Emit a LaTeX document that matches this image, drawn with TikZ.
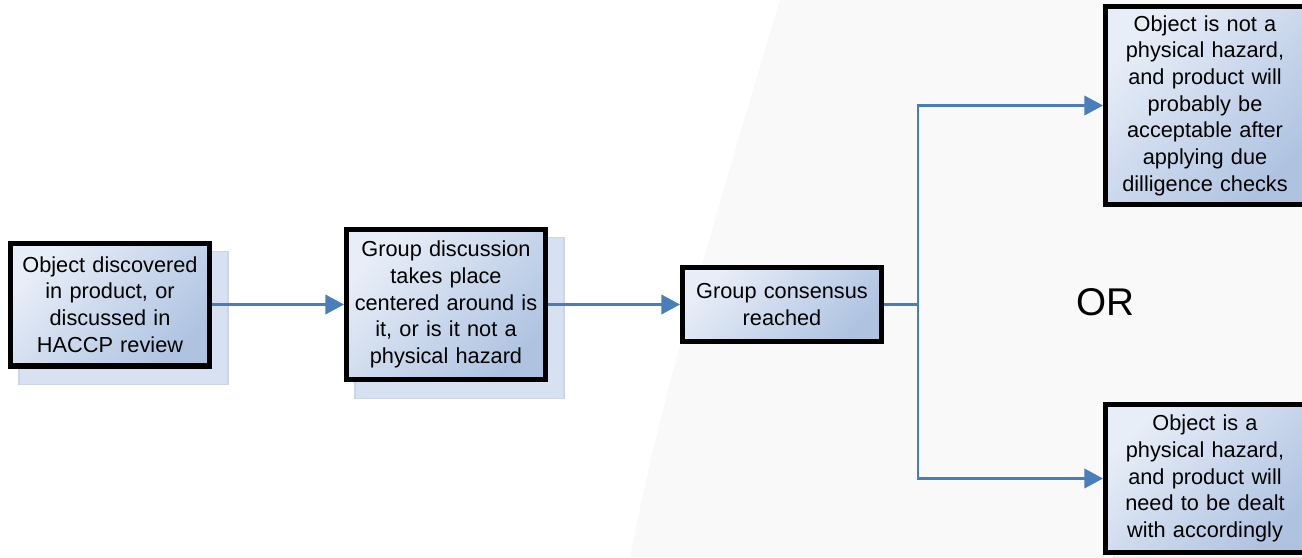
\documentclass[tikz,border=0pt]{standalone}
\usepackage{fontspec}
\setmainfont{Liberation Sans}
\usetikzlibrary{arrows.meta,backgrounds}

\definecolor{boxlight}{HTML}{E8EEF8}
\definecolor{boxdark}{HTML}{AFC3E1}
\definecolor{shadowfill}{HTML}{D7E1F1}
\definecolor{shadowline}{HTML}{C9D6EC}
\definecolor{flowblue}{HTML}{4A7EBB}
\definecolor{haze}{HTML}{F9F9F9}

\tikzset{
  procbox/.style={draw=black, line width=4pt, rectangle, inner sep=0pt,
    top color=boxlight, bottom color=boxdark, shading angle=45,
    align=center, text width=148pt,
    font=\fontsize{16.3}{20}\selectfont},
  flow/.style={draw=flowblue, line width=2.1pt,
    -{Triangle[length=14pt,width=14.5pt]}},
  link/.style={draw=flowblue, line width=2.1pt},
  shadowbox/.style={fill=shadowfill, draw=shadowline, line width=0.8pt},
}

\begin{document}
% one unit = one pixel, y axis pointing down
\begin{tikzpicture}[x=0.75pt, y=-0.75pt]
  \useasboundingbox (0,0) rectangle (1302,557);
  \clip (0,0) rectangle (1302,557);

  % faint backdrop sweep on the right
  \fill[haze] (780,0) .. controls (720,200) and (660,400) .. (630,557)
    -- (1302,557) -- (1302,0) -- cycle;

  % process boxes
  \node[procbox, minimum width=149pt, minimum height=92pt] (disc) at (110,304.5)
    {Object discovered\\in product, or\\discussed in\\HACCP review};
  \node[procbox, minimum width=149pt, minimum height=112.5pt] (talk) at (446,304.5)
    {Group discussion\\takes place\\centered around is\\it, or is it not a\\physical hazard};
  \node[procbox, minimum width=149pt, minimum height=55.5pt] (cons) at (782,304.5)
    {Group consensus\\reached};
  \node[procbox, minimum width=149pt, minimum height=148.5pt] (safe) at (1205,105.5)
    {Object is not a\\physical hazard,\\and product will\\probably be\\acceptable after\\applying due\\dilligence checks};
  \node[procbox, minimum width=149pt, minimum height=111pt] (risk) at (1205,478.5)
    {Object is a\\physical hazard,\\and product will\\need to be dealt\\with accordingly};

  \node[font=\fontsize{29}{34}\selectfont] (or) at (1105,302) {OR};

  % offset panels behind each box
  \begin{scope}[on background layer]
    \foreach \b in {disc,talk,cons,safe,risk}
      \path[shadowbox] ([shift={(11,11)}]\b.north west) rectangle ([shift={(16,16)}]\b.south east);
  \end{scope}

  % connectors
  \coordinate (fork) at (918,304.5);
  \draw[flow] (disc.east) -- (talk.west);
  \draw[flow] (talk.east) -- (cons.west);
  \draw[link] (cons.east) -- (fork);
  \draw[flow] (fork) |- (safe.west);
  \draw[flow] (fork) |- (risk.west);
\end{tikzpicture}
\end{document}
